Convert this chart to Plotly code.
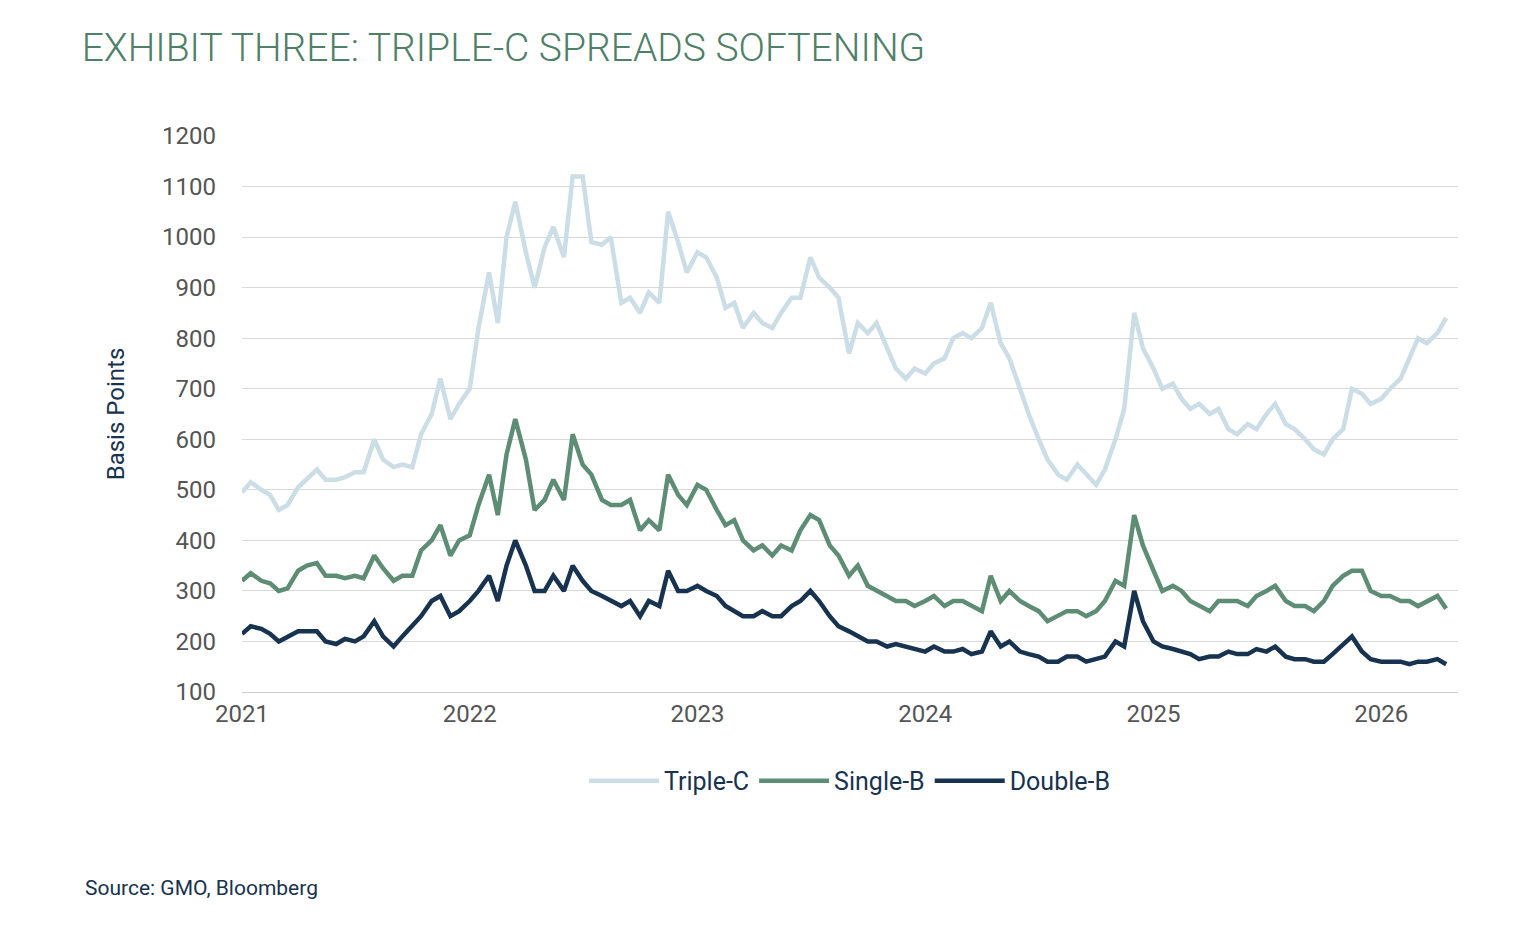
import pandas as pd
import plotly.graph_objects as go

# semi-monthly observation dates (1st and 15th), Jan 2021 - Apr 2026
dates = [f"{y}-{m:02d}-{d:02d}" for y in range(2021, 2027) for m in range(1, 13) for d in (1, 15)][:128]

triple_c = [495,515,500,490,460,470,505,520,540,520,520,525,535,535,600,560,545,550,545,610,650,720,640,670,
            700,820,930,830,1000,1070,970,900,980,1020,960,1120,1120,990,985,1000,870,880,850,890,870,1050,990,930,
            970,960,920,860,870,820,850,830,820,850,880,880,960,920,900,880,770,830,810,830,780,740,720,740,
            730,750,760,800,810,800,820,870,790,760,700,650,600,560,530,520,550,530,510,540,600,660,850,780,
            740,700,710,680,660,670,650,660,620,610,630,620,650,670,630,620,600,580,570,600,620,700,690,670,
            680,700,720,760,800,790,810,840]
single_b = [320,335,320,315,300,305,340,350,355,330,330,325,330,325,370,345,320,330,330,380,400,430,370,400,
            410,470,530,450,570,640,560,460,480,520,480,610,550,530,480,470,470,480,420,440,420,530,490,470,
            510,500,460,430,440,400,380,390,370,390,380,420,450,440,390,370,330,350,310,300,290,280,280,270,
            280,290,270,280,280,270,260,330,280,300,280,270,260,240,250,260,260,250,260,280,320,310,450,390,
            340,300,310,300,280,270,260,280,280,280,270,290,300,310,280,270,270,260,280,310,330,340,340,300,
            290,290,280,280,270,280,290,265]
double_b = [215,230,225,215,200,210,220,220,220,200,195,205,200,210,240,210,190,210,230,250,280,290,250,260,
            280,300,330,280,350,400,350,300,300,330,300,350,320,300,290,280,270,280,250,280,270,340,300,300,
            310,300,290,270,260,250,250,260,250,250,270,280,300,280,250,230,220,210,200,200,190,195,190,185,
            180,190,180,180,185,175,180,220,190,200,180,175,170,160,160,170,170,160,165,170,200,190,300,240,
            200,190,185,180,175,165,170,170,180,175,175,185,180,190,170,165,165,160,160,175,195,210,180,165,
            160,160,160,155,160,160,165,155]
series_names = ["Triple-C", "Single-B", "Double-B"]
colors = ["#cbdde6", "#5e8d75", "#17334f"]
year_ticks = ["2021", "2022", "2023", "2024", "2025", "2026"]

fig = go.Figure()
for name, vals, c in zip(series_names, [triple_c, single_b, double_b], colors):
    fig.add_trace(go.Scatter(x=pd.to_datetime(dates), y=vals, name=name, mode="lines",
                             line=dict(color=c, width=4.5)))

fig.update_layout(
    width=1534, height=940, plot_bgcolor="white", paper_bgcolor="white",
    font=dict(family="Roboto", color="#555555"),
    margin=dict(l=234, r=84, t=128, b=256),
    title=dict(text="EXHIBIT THREE: TRIPLE-C SPREADS SOFTENING", x=0.048, xanchor="left",
               y=0.958, yanchor="middle", font=dict(size=39, color="#4f8068", family="Roboto Light, Roboto")),
    legend=dict(orientation="h", x=0.5, xanchor="center", y=-0.16, yanchor="middle",
                font=dict(size=25, color="#17334f"), itemwidth=70),
    xaxis=dict(range=["2021-01-01", "2026-05-04"], tickvals=[f"{y}-01-01" for y in year_ticks],
               ticktext=year_ticks, tickfont=dict(size=24, color="#555555"), showgrid=False,
               showline=True, linecolor="#cccccc", ticks="", ticklen=0),
    yaxis=dict(range=[100, 1200], dtick=100, tickfont=dict(size=24, color="#555555"),
               gridcolor="#d9d9d9", zeroline=False, ticklabelstandoff=25,
               title=dict(text="Basis Points", font=dict(size=24, color="#17334f"), standoff=30)),
)
fig.add_annotation(text="Source: GMO, Bloomberg", xref="paper", yref="paper", x=-0.131, y=-0.352,
                   xanchor="left", yanchor="middle", showarrow=False,
                   font=dict(size=21, color="#17334f"))
fig.write_html("out.html")
